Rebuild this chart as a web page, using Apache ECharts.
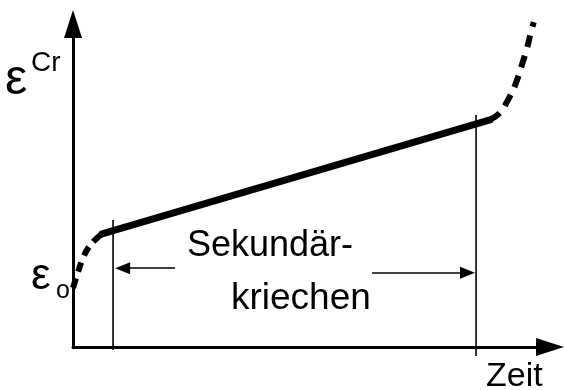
<!DOCTYPE html>
<html>
<head>
<meta charset="utf-8">
<script src="https://cdn.jsdelivr.net/npm/echarts@6/dist/echarts.min.js"></script>
<style>
  html, body { margin: 0; padding: 0; background: #fff; }
  #chart { width: 564px; height: 390px; }
</style>
</head>
<body>
<div id="chart"></div>
<script>
// Creep curve: strain over time (arbitrary units, 0..100 on both axes)
const primaryCreep = [[0, 18.3], [1.05, 23.2], [2.1, 27.6], [3.35, 31.0], [4.8, 33.4], [6.1, 35.0]];
const secondaryCreep = [[6.1, 35.0], [87.4, 70.3]];
const tertiaryCreep = [[87.4, 70.3], [89.5, 72.5], [91.2, 76.5], [92.7, 81.1], [94.1, 87.3], [95.2, 92.6], [96.0, 97.5], [96.6, 100.6]];

// Start and end of the secondary stage (time)
const stageStart = 8.4;
const stageEnd = 84.5;
const markerTop = [39.3, 71.8];
const markerBottom = [-0.9, -2.8];

// Dimension arrows pointing at the two markers (end = arrowhead centre)
const arrowLeft = [[21.4, 24.4], [10.4, 24.4]];
const arrowRight = [[62.7, 23.0], [82.7, 23.0]];

const labelFont = '"Liberation Sans", Arial, sans-serif';

const chart = echarts.init(document.getElementById('chart'), null, { renderer: 'canvas' });

const axisCommon = {
  type: 'value',
  min: 0,
  max: 100,
  axisTick: { show: false },
  axisLabel: { show: false },
  splitLine: { show: false },
  axisLine: {
    show: true,
    symbol: ['none', 'triangle'],
    symbolSize: [18, 28],
    lineStyle: { color: '#000', width: 3 }
  }
};

chart.setOption({
  backgroundColor: '#fff',
  animation: false,
  grid: { left: 73, right: 14, top: 24, bottom: 43, containLabel: false },
  xAxis: Object.assign({}, axisCommon),
  yAxis: Object.assign({}, axisCommon),
  series: [
    {
      name: 'primär',
      type: 'line',
      data: primaryCreep,
      smooth: 0.4,
      showSymbol: false,
      clip: false,
      lineStyle: { color: '#000', width: 6, type: [10, 7], cap: 'butt' }
    },
    {
      name: 'sekundär',
      type: 'line',
      data: secondaryCreep,
      showSymbol: false,
      clip: false,
      lineStyle: { color: '#000', width: 7, cap: 'round' }
    },
    {
      name: 'tertiär',
      type: 'line',
      data: tertiaryCreep,
      smooth: 0.4,
      showSymbol: false,
      clip: false,
      lineStyle: { color: '#000', width: 6, type: [12, 9], cap: 'butt' }
    },
    {
      name: 'Beginn',
      type: 'line',
      data: [[stageStart, markerTop[0]], [stageStart, markerBottom[0]]],
      showSymbol: false,
      clip: false,
      lineStyle: { color: '#000', width: 1.6 }
    },
    {
      name: 'Ende',
      type: 'line',
      data: [[stageEnd, markerTop[1]], [stageEnd, markerBottom[1]]],
      showSymbol: false,
      clip: false,
      lineStyle: { color: '#000', width: 1.6 },
      markLine: {
        silent: true,
        symbol: ['none', 'triangle'],
        symbolSize: [12, 15],
        label: { show: false },
        lineStyle: { color: '#000', width: 1.6, type: 'solid' },
        data: [
          [{ coord: arrowLeft[0] }, { coord: arrowLeft[1] }],
          [{ coord: arrowRight[0] }, { coord: arrowRight[1] }]
        ]
      }
    }
  ],
  graphic: [
    { type: 'text', left: 5, top: 55, style: { text: 'ε', font: '50px ' + labelFont, fill: '#000' } },
    { type: 'text', left: 31, top: 49, style: { text: 'Cr', font: '28px ' + labelFont, fill: '#000' } },
    { type: 'text', left: 31, top: 255, style: { text: 'ε', font: '44px ' + labelFont, fill: '#000' } },
    { type: 'text', left: 56, top: 279, style: { text: 'o', font: '25px ' + labelFont, fill: '#000' } },
    { type: 'text', left: 187, top: 228, style: { text: 'Sekundär-', font: '36px ' + labelFont, fill: '#000' } },
    { type: 'text', left: 231, top: 280, style: { text: 'kriechen', font: '37px ' + labelFont, fill: '#000' } },
    { type: 'text', left: 486, top: 360, style: { text: 'Zeit', font: '34px ' + labelFont, fill: '#000' } }
  ]
});
</script>
</body>
</html>
